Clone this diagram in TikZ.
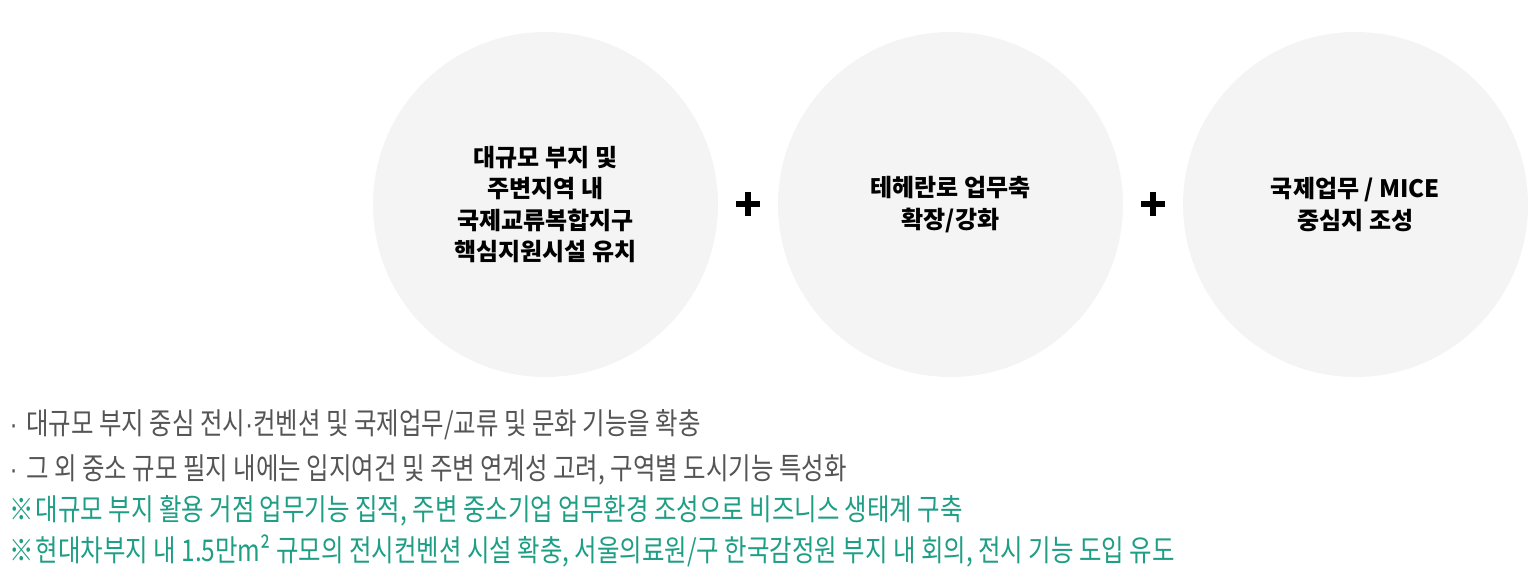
\documentclass[tikz,border=0pt]{standalone}
\usepackage{fontspec}
\newfontfamily\kr{Noto Sans CJK KR}
\newfontfamily\krnarrow{Noto Sans CJK KR}[FakeStretch=0.815]
\newfontfamily\dotfont{Liberation Sans}[FakeStretch=0.815]
\newcommand\middot{{\dotfont\char"00B7}}
\definecolor{bubblegray}{HTML}{F4F4F4}
\definecolor{notegray}{HTML}{555555}
\definecolor{notegreen}{HTML}{1E9E85}
\begin{document}
\begin{tikzpicture}[x=1pt,y=-1pt]
      \tikzset{bubble node/.style={circle, draw=none, fill=bubblegray, minimum size=345pt, inner sep=0pt,
          align=center, font=\kr\bfseries\fontsize{24}{31.5}\selectfont},
        plus node/.style={minimum size=24pt, inner sep=0pt,
          path picture={\fill[black] ([xshift=-12pt,yshift=-3pt]path picture bounding box.center) rectangle ([xshift=12pt,yshift=3pt]path picture bounding box.center);
            \fill[black] ([xshift=-3pt,yshift=-12pt]path picture bounding box.center) rectangle ([xshift=3pt,yshift=12pt]path picture bounding box.center);}},
        note node/.style={anchor=west, inner sep=0pt, font=\krnarrow\fontsize{30}{30}\selectfont}}
      \useasboundingbox (0,0) rectangle (1528,582);
      \node[bubble node] (site) at (545.5,204.5) {대규모 부지 및\\주변지역 내\\국제교류복합지구\\핵심지원시설 유치};
      \node[bubble node] (teheran) at (950.5,204.5) {테헤란로 업무축\\확장/강화};
      \node[bubble node] (mice) at (1355.5,204.5) {국제업무 / MICE\\중심지 조성};
      \node[plus node] (plusA) at (748,204) {};
      \node[plus node] (plusB) at (1153,204) {};
      \node[note node, text=notegray] (noteA) at (9.5,425) {\middot\hspace{8.5pt}대규모 부지 중심 전시\middot 컨벤션 및 국제업무/교류 및 문화 기능을 확충};
      \node[note node, text=notegray] (noteB) at (9.5,470) {\middot\hspace{8.5pt}그 외 중소 규모 필지 내에는 입지여건 및 주변 연계성 고려, 구역별 도시기능 특성화};
      \node[note node, text=notegreen] (noteC) at (9,511) {※\hspace{2pt}대규모 부지 활용 거점 업무기능 집적, 주변 중소기업 업무환경 조성으로 비즈니스 생태계 구축};
      \node[note node, text=notegreen] (noteD) at (9,551) {※\hspace{2pt}현대차부지 내 1.5만m² 규모의 전시컨벤션 시설 확충, 서울의료원/구 한국감정원 부지 내 회의, 전시 기능 도입 유도};
    \end{tikzpicture}
\end{document}
